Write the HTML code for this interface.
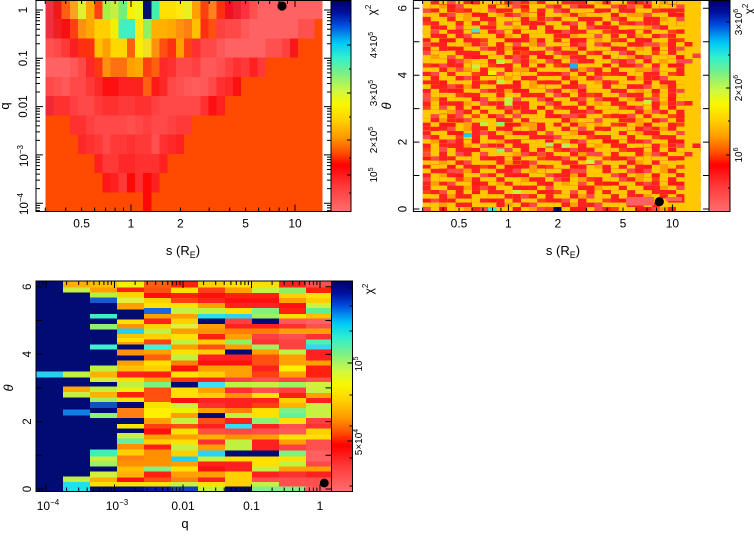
<!DOCTYPE html>
<html><head><meta charset="utf-8"><style>
html,body{margin:0;padding:0;background:#fff;}
svg{display:block}
text{font-family:"Liberation Sans",sans-serif;fill:#000}
</style></head><body>
<svg width="754" height="537" viewBox="0 0 754 537" xmlns="http://www.w3.org/2000/svg">
<defs>
<linearGradient id="cb" x1="0" y1="0" x2="0" y2="1">
<stop offset="0" stop-color="#00006a"/>
<stop offset="0.06" stop-color="#0010a0"/>
<stop offset="0.12" stop-color="#0050e0"/>
<stop offset="0.2" stop-color="#00c8f8"/>
<stop offset="0.27" stop-color="#30f0d0"/>
<stop offset="0.35" stop-color="#80f080"/>
<stop offset="0.43" stop-color="#d0f840"/>
<stop offset="0.49" stop-color="#f8f800"/>
<stop offset="0.57" stop-color="#ffd000"/>
<stop offset="0.65" stop-color="#ff9800"/>
<stop offset="0.72" stop-color="#ff5000"/>
<stop offset="0.78" stop-color="#ff0000"/>
<stop offset="0.88" stop-color="#ff3a3a"/>
<stop offset="1" stop-color="#ff6e6e"/>
</linearGradient>
<pattern id="p2" patternUnits="userSpaceOnUse" x="422.7" y="0" width="65.408" height="42.2" viewBox="0 0 8 10" preserveAspectRatio="none">
<rect width="8" height="10" fill="#ffc800"/>
<g shape-rendering="crispEdges">
<rect x="1" y="0" width="2" height="1" fill="#ff2020"/><rect x="3" y="0" width="1" height="1" fill="#ff4848"/><rect x="5" y="0" width="1" height="1" fill="#ffa000"/><rect x="6" y="0" width="1" height="1" fill="#ff2020"/>
<rect x="0" y="1" width="1" height="1" fill="#ff2020"/><rect x="2" y="1" width="1" height="1" fill="#ffa000"/><rect x="3" y="1" width="2" height="1" fill="#ff1818"/><rect x="7" y="1" width="1" height="1" fill="#ff4848"/>
<rect x="0" y="2" width="1" height="1" fill="#ff4848"/><rect x="1" y="2" width="1" height="1" fill="#ff2020"/><rect x="4" y="2" width="1" height="1" fill="#ff4010"/><rect x="5" y="2" width="2" height="1" fill="#ff2020"/>
<rect x="1" y="3" width="1" height="1" fill="#ffa000"/><rect x="2" y="3" width="1" height="1" fill="#ff2020"/><rect x="3" y="3" width="1" height="1" fill="#ff4848"/><rect x="6" y="3" width="2" height="1" fill="#ff1818"/>
<rect x="0" y="4" width="1" height="1" fill="#ff2020"/><rect x="3" y="4" width="2" height="1" fill="#ff2020"/><rect x="5" y="4" width="1" height="1" fill="#ffa000"/><rect x="7" y="4" width="1" height="1" fill="#ff4848"/>
<rect x="0" y="5" width="1" height="1" fill="#ff4010"/><rect x="1" y="5" width="1" height="1" fill="#ff2020"/><rect x="2" y="5" width="1" height="1" fill="#ff4848"/><rect x="4" y="5" width="1" height="1" fill="#ff2020"/><rect x="6" y="5" width="1" height="1" fill="#ff1818"/>
<rect x="2" y="6" width="1" height="1" fill="#ff2020"/><rect x="3" y="6" width="1" height="1" fill="#ffa000"/><rect x="4" y="6" width="1" height="1" fill="#ff4848"/><rect x="5" y="6" width="1" height="1" fill="#ff2020"/><rect x="7" y="6" width="1" height="1" fill="#ff2020"/>
<rect x="0" y="7" width="1" height="1" fill="#ff1818"/><rect x="1" y="7" width="1" height="1" fill="#ff4848"/><rect x="3" y="7" width="1" height="1" fill="#ff2020"/><rect x="6" y="7" width="1" height="1" fill="#ff4010"/><rect x="7" y="7" width="1" height="1" fill="#ff2020"/>
<rect x="1" y="8" width="1" height="1" fill="#ff2020"/><rect x="2" y="8" width="1" height="1" fill="#ffa000"/><rect x="4" y="8" width="1" height="1" fill="#ff2020"/><rect x="5" y="8" width="1" height="1" fill="#ff4848"/>
<rect x="0" y="9" width="1" height="1" fill="#ff2020"/><rect x="2" y="9" width="2" height="1" fill="#ff1818"/><rect x="5" y="9" width="1" height="1" fill="#ffa000"/><rect x="6" y="9" width="1" height="1" fill="#ff2020"/><rect x="7" y="9" width="1" height="1" fill="#ff4010"/>
</g>
</pattern>
<pattern id="p3" patternUnits="userSpaceOnUse" x="422.7" y="0" width="57.232" height="54.86" viewBox="0 0 7 13" preserveAspectRatio="none">
<g shape-rendering="crispEdges">
<rect x="2" y="0" width="1" height="1" fill="#ffc800"/><rect x="5" y="0" width="1" height="1" fill="#ff2020"/>
<rect x="0" y="1" width="1" height="1" fill="#ffc800"/><rect x="4" y="1" width="1" height="1" fill="#ff4848"/>
<rect x="3" y="2" width="1" height="1" fill="#ff2020"/><rect x="6" y="2" width="1" height="1" fill="#ffc800"/>
<rect x="1" y="3" width="1" height="1" fill="#ffc800"/><rect x="5" y="3" width="1" height="1" fill="#ffa000"/>
<rect x="0" y="4" width="1" height="1" fill="#ff2020"/><rect x="4" y="4" width="1" height="1" fill="#ffc800"/>
<rect x="2" y="5" width="1" height="1" fill="#ffc800"/><rect x="6" y="5" width="1" height="1" fill="#ff2020"/>
<rect x="1" y="6" width="1" height="1" fill="#ff2020"/><rect x="3" y="6" width="1" height="1" fill="#ffc800"/><rect x="5" y="6" width="1" height="1" fill="#ffc800"/>
<rect x="0" y="7" width="1" height="1" fill="#ffc800"/><rect x="4" y="7" width="1" height="1" fill="#ff2020"/>
<rect x="2" y="8" width="1" height="1" fill="#ff2020"/><rect x="6" y="8" width="1" height="1" fill="#ffc800"/>
<rect x="1" y="9" width="1" height="1" fill="#ffc800"/><rect x="5" y="9" width="1" height="1" fill="#ff2020"/>
<rect x="0" y="10" width="1" height="1" fill="#ff4848"/><rect x="3" y="10" width="1" height="1" fill="#ffc800"/>
<rect x="2" y="11" width="1" height="1" fill="#ff2020"/><rect x="6" y="11" width="1" height="1" fill="#ffc800"/>
<rect x="1" y="12" width="1" height="1" fill="#ffc800"/><rect x="4" y="12" width="1" height="1" fill="#ff2020"/>
</g>
</pattern>
</defs>

<rect width="754" height="537" fill="#fff"/>

<!-- ============ PANEL 1 ============ -->
<svg x="45.3" y="0" width="277.4" height="211.5" viewBox="0 0 34 11" preserveAspectRatio="none" shape-rendering="crispEdges">
<rect width="34" height="11" fill="#ff4a00"/>
<g transform="translate(0,0)">
<rect x="0" width="1" height="1" fill="#f03040"/><rect x="1" width="1" height="1" fill="#f01818"/><rect x="2" width="1" height="1" fill="#ff6010"/><rect x="3" width="1" height="1" fill="#ffa020"/><rect x="4" width="1" height="1" fill="#e0f030"/><rect x="5" width="1" height="1" fill="#ffa800"/><rect x="6" width="1" height="1" fill="#ff4010"/><rect x="7" width="1" height="1" fill="#a8f048"/><rect x="8" width="1" height="1" fill="#c8f040"/><rect x="9" width="1" height="1" fill="#70f080"/><rect x="10" width="1" height="1" fill="#f8f000"/><rect x="11" width="1" height="1" fill="#e8f820"/><rect x="12" width="1" height="1" fill="#001070"/><rect x="13" width="1" height="1" fill="#40f0b0"/><rect x="14" width="2" height="1" fill="#ffe000"/><rect x="16" width="1" height="1" fill="#ffe810"/><rect x="17" width="1" height="1" fill="#e8f020"/><rect x="18" width="1" height="1" fill="#ffa000"/><rect x="19" width="1" height="1" fill="#ff4010"/><rect x="20" width="1" height="1" fill="#ff8020"/><rect x="21" width="1" height="1" fill="#ff3010"/><rect x="22" width="1" height="1" fill="#f01020"/><rect x="23" width="1" height="1" fill="#f02030"/><rect x="24" width="1" height="1" fill="#ff3040"/><rect x="25" width="1" height="1" fill="#ff5050"/><rect x="26" width="8" height="1" fill="#ff6262"/>
</g>
<g transform="translate(0,1)">
<rect x="0" width="1" height="1" fill="#f03040"/><rect x="1" width="1" height="1" fill="#f02020"/><rect x="2" width="1" height="1" fill="#f81010"/><rect x="3" width="1" height="1" fill="#ff4010"/><rect x="4" width="1" height="1" fill="#ff9010"/><rect x="5" width="1" height="1" fill="#ffa800"/><rect x="6" width="2" height="1" fill="#ffd000"/><rect x="8" width="1" height="1" fill="#f0f000"/><rect x="9" width="2" height="1" fill="#40f0c0"/><rect x="11" width="1" height="1" fill="#ffe810"/><rect x="12" width="1" height="1" fill="#90f060"/><rect x="13" width="2" height="1" fill="#ffb000"/><rect x="15" width="1" height="1" fill="#ffa800"/><rect x="16" width="1" height="1" fill="#ff9010"/><rect x="17" width="1" height="1" fill="#ff8010"/><rect x="18" width="1" height="1" fill="#ffc000"/><rect x="19" width="1" height="1" fill="#ff3010"/><rect x="20" width="1" height="1" fill="#ff5010"/><rect x="21" width="1" height="1" fill="#ff4040"/><rect x="22" width="2" height="1" fill="#ff4848"/><rect x="24" width="1" height="1" fill="#ff5858"/><rect x="25" width="6" height="1" fill="#ff6262"/><rect x="31" width="2" height="1" fill="#ff5050"/>
</g>
<g transform="translate(0,2)">
<rect x="0" width="1" height="1" fill="#ff5050"/><rect x="1" width="1" height="1" fill="#ff4848"/><rect x="2" width="1" height="1" fill="#ff3838"/><rect x="3" width="1" height="1" fill="#f82020"/><rect x="4" width="2" height="1" fill="#ff3010"/><rect x="6" width="1" height="1" fill="#ffc000"/><rect x="7" width="1" height="1" fill="#ffa000"/><rect x="8" width="2" height="1" fill="#ffd800"/><rect x="10" width="1" height="1" fill="#ff6010"/><rect x="11" width="1" height="1" fill="#f8f000"/><rect x="12" width="1" height="1" fill="#f0e020"/><rect x="13" width="1" height="1" fill="#ff9010"/><rect x="14" width="1" height="1" fill="#ff5010"/><rect x="15" width="1" height="1" fill="#ff3010"/><rect x="16" width="1" height="1" fill="#ffa000"/><rect x="17" width="1" height="1" fill="#ff4010"/><rect x="18" width="1" height="1" fill="#ff3030"/><rect x="19" width="2" height="1" fill="#ff4848"/><rect x="21" width="1" height="1" fill="#ff5858"/><rect x="22" width="5" height="1" fill="#ff6262"/><rect x="27" width="2" height="1" fill="#ff5050"/><rect x="29" width="1" height="1" fill="#ff4040"/><rect x="30" width="1" height="1" fill="#f81818"/>
</g>
<g transform="translate(0,3)">
<rect x="0" width="3" height="1" fill="#ff6262"/><rect x="3" width="1" height="1" fill="#ff5858"/><rect x="4" width="1" height="1" fill="#ff4848"/><rect x="5" width="1" height="1" fill="#ff2828"/><rect x="6" width="1" height="1" fill="#ff3810"/><rect x="7" width="1" height="1" fill="#ff9010"/><rect x="8" width="2" height="1" fill="#ff7010"/><rect x="10" width="1" height="1" fill="#ffa000"/><rect x="11" width="1" height="1" fill="#ffa800"/><rect x="12" width="1" height="1" fill="#ff4010"/><rect x="13" width="1" height="1" fill="#ff6010"/><rect x="14" width="1" height="1" fill="#ff2828"/><rect x="15" width="1" height="1" fill="#ff3030"/><rect x="16" width="2" height="1" fill="#ff4848"/><rect x="18" width="1" height="1" fill="#ff4040"/><rect x="19" width="2" height="1" fill="#ff5858"/><rect x="21" width="1" height="1" fill="#ff5050"/><rect x="22" width="1" height="1" fill="#ff4040"/><rect x="23" width="1" height="1" fill="#ff3030"/><rect x="24" width="1" height="1" fill="#ff3838"/><rect x="25" width="1" height="1" fill="#ff2020"/><rect x="26" width="1" height="1" fill="#ff3838"/>
</g>
<g transform="translate(0,4)">
<rect x="0" width="1" height="1" fill="#ff4848"/><rect x="1" width="1" height="1" fill="#ff5050"/><rect x="2" width="1" height="1" fill="#ff5858"/><rect x="3" width="2" height="1" fill="#ff4848"/><rect x="5" width="1" height="1" fill="#ff3838"/><rect x="6" width="1" height="1" fill="#ff2828"/><rect x="7" width="2" height="1" fill="#ff1010"/><rect x="9" width="3" height="1" fill="#ff2020"/><rect x="12" width="1" height="1" fill="#ff6010"/><rect x="13" width="1" height="1" fill="#ff1818"/><rect x="14" width="1" height="1" fill="#ff2828"/><rect x="15" width="1" height="1" fill="#ff4848"/><rect x="16" width="1" height="1" fill="#ff5050"/><rect x="17" width="1" height="1" fill="#ff5858"/><rect x="18" width="1" height="1" fill="#ff5c5c"/><rect x="19" width="1" height="1" fill="#ff5858"/><rect x="20" width="1" height="1" fill="#ff4848"/><rect x="21" width="1" height="1" fill="#ff3030"/><rect x="22" width="1" height="1" fill="#ff2828"/><rect x="23" width="1" height="1" fill="#ff1010"/>
</g>
<g transform="translate(0,5)">
<rect x="0" width="1" height="1" fill="#f02838"/><rect x="1" width="2" height="1" fill="#ff3030"/><rect x="3" width="1" height="1" fill="#ff4040"/><rect x="4" width="2" height="1" fill="#ff4848"/><rect x="6" width="1" height="1" fill="#ff3838"/><rect x="7" width="2" height="1" fill="#ff3030"/><rect x="9" width="2" height="1" fill="#ff3838"/><rect x="11" width="2" height="1" fill="#ff3030"/><rect x="13" width="1" height="1" fill="#ff4040"/><rect x="14" width="5" height="1" fill="#ff4848"/><rect x="19" width="1" height="1" fill="#ff3030"/><rect x="20" width="1" height="1" fill="#ff1010"/><rect x="21" width="1" height="1" fill="#ff2020"/>
</g>
<g transform="translate(0,6)">
<rect x="3" width="2" height="1" fill="#ff3030"/><rect x="5" width="1" height="1" fill="#ff4040"/><rect x="6" width="4" height="1" fill="#ff4848"/><rect x="10" width="1" height="1" fill="#ff5050"/><rect x="11" width="1" height="1" fill="#ff4848"/><rect x="12" width="1" height="1" fill="#ff4040"/><rect x="13" width="2" height="1" fill="#ff4848"/><rect x="15" width="1" height="1" fill="#ff4040"/><rect x="16" width="2" height="1" fill="#ff3838"/>
</g>
<g transform="translate(0,7)">
<rect x="4" width="1" height="1" fill="#ff2828"/><rect x="5" width="1" height="1" fill="#ff3030"/><rect x="6" width="1" height="1" fill="#ff3838"/><rect x="7" width="1" height="1" fill="#ff4848"/><rect x="8" width="2" height="1" fill="#ff3838"/><rect x="10" width="1" height="1" fill="#ff3030"/><rect x="11" width="2" height="1" fill="#ff3838"/><rect x="13" width="1" height="1" fill="#ff5050"/><rect x="14" width="1" height="1" fill="#ff3030"/><rect x="15" width="1" height="1" fill="#ff2828"/><rect x="16" width="1" height="1" fill="#ff2020"/>
</g>
<g transform="translate(0,8)">
<rect x="6" width="1" height="1" fill="#ff2020"/><rect x="7" width="2" height="1" fill="#ff3838"/><rect x="9" width="2" height="1" fill="#ff2828"/><rect x="11" width="3" height="1" fill="#ff3030"/><rect x="14" width="1" height="1" fill="#ff2020"/>
</g>
<g transform="translate(0,9)">
<rect x="7" width="1" height="1" fill="#ff1818"/><rect x="8" width="1" height="1" fill="#ff2020"/><rect x="9" width="1" height="1" fill="#ff3838"/><rect x="10" width="1" height="1" fill="#ff0808"/><rect x="11" width="1" height="1" fill="#ff3030"/><rect x="12" width="1" height="1" fill="#ff0808"/><rect x="13" width="1" height="1" fill="#ff2020"/>
</g>
<g transform="translate(0,10)">
<rect x="12" width="1" height="1" fill="#ff0808"/>
</g>
</svg>
<circle cx="282" cy="6" r="4.6" fill="#000"/>

<!-- panel 1 frame and ticks -->
<rect x="36" y="0.5" width="295" height="211" fill="none" stroke="#000" stroke-width="1"/>
<g id="p1y" stroke="#000" stroke-width="1" fill="none">
<path d="M36 10h7M36 58.3h7M36 106.6h7M36 154.9h7M36 203.2h7"/>
<path d="M36 43.76h4M36 35.25h4M36 29.22h4M36 24.54h4M36 20.72h4M36 17.48h4M36 14.68h4M36 12.21h4M36 92.06h4M36 83.55h4M36 77.52h4M36 72.84h4M36 69.02h4M36 65.78h4M36 62.98h4M36 60.51h4M36 140.36h4M36 131.85h4M36 125.82h4M36 121.14h4M36 117.32h4M36 114.08h4M36 111.28h4M36 108.81h4M36 188.66h4M36 180.15h4M36 174.12h4M36 169.44h4M36 165.62h4M36 162.38h4M36 159.58h4M36 157.11h4M36 210.68h4M36 207.88h4M36 205.41h4"/>
</g>
<use href="#p1y" transform="matrix(-1 0 0 1 367 0)"/>
<g id="p1x" stroke="#000" stroke-width="1" fill="none">
<path d="M131 211.5v-7M295 211.5v-7M131 0v7M295 0v7"/>
<path d="M45.25 211.5v-4M65.74 211.5v-4M81.63 211.5v-4M94.62 211.5v-4M105.6 211.5v-4M115.1 211.5v-4M123.5 211.5v-4M180.4 211.5v-4M209.2 211.5v-4M229.7 211.5v-4M245.6 211.5v-4M258.6 211.5v-4M269.6 211.5v-4M279.1 211.5v-4M287.5 211.5v-4M45.25 0v4M65.74 0v4M81.63 0v4M94.62 0v4M105.6 0v4M115.1 0v4M123.5 0v4M180.4 0v4M209.2 0v4M229.7 0v4M245.6 0v4M258.6 0v4M269.6 0v4M279.1 0v4M287.5 0v4"/>
</g>
<!-- colorbar 1 -->
<rect x="331" y="0.5" width="20" height="211" fill="url(#cb)" stroke="#000" stroke-width="1"/>
<path d="M351 45h-4M351 93h-4M351 140h-4M351 175h-4M351 21h-2M351 69h-2M351 117h-2M351 158h-2M351 193h-2" stroke="#000" stroke-width="1"/>

<!-- panel 1 labels -->
<g font-size="12" text-anchor="middle">
<text x="81.6" y="227.5">0.5</text>
<text x="131" y="227.5">1</text>
<text x="180.4" y="227.5">2</text>
<text x="245.6" y="227.5">5</text>
<text x="295" y="227.5">10</text>
<text x="183" y="255" font-size="13">s (R<tspan dy="3" font-size="9">E</tspan><tspan dy="-3">)</tspan></text>
</g>
<g font-size="11.5" text-anchor="middle">
<text transform="translate(27,10) rotate(-90)">1</text>
<text transform="translate(27,58.3) rotate(-90)">0.1</text>
<text transform="translate(27,106.6) rotate(-90)">0.01</text>
<text transform="translate(28,156) rotate(-90)">10<tspan dy="-5" font-size="8">−3</tspan></text>
<text transform="translate(28,204) rotate(-90)">10<tspan dy="-5" font-size="8">−4</tspan></text>
<text transform="translate(9,106) rotate(-90)" font-size="13">q</text>
</g>
<g font-size="10" text-anchor="middle">
<text transform="translate(377,45) rotate(-90)">4×10<tspan dy="-4" font-size="7">5</tspan></text>
<text transform="translate(377,93) rotate(-90)">3×10<tspan dy="-4" font-size="7">5</tspan></text>
<text transform="translate(377,140) rotate(-90)">2×10<tspan dy="-4" font-size="7">5</tspan></text>
<text transform="translate(377,175) rotate(-90)">10<tspan dy="-4" font-size="7">5</tspan></text>
<text transform="translate(376,10) rotate(-90)" font-size="12">χ<tspan dy="-5" font-size="8">2</tspan></text>
</g>

<!-- ============ PANEL 2 ============ -->
<rect x="422.7" y="0" width="278" height="211.5" fill="url(#p2)"/>
<rect x="422.7" y="0" width="278" height="211.5" fill="url(#p3)"/>
<g shape-rendering="crispEdges">
<rect x="684.4" y="0" width="8.2" height="211.5" fill="#ffc800"/>
<rect x="692.5" y="0" width="8.2" height="211.5" fill="#ffc800"/>
<rect x="692.5" y="53.5" width="8.2" height="4.3" fill="#ff4040"/>
<rect x="692.5" y="143.5" width="8.2" height="4.3" fill="#ff2020"/>
<rect x="684.4" y="42" width="8.2" height="4.3" fill="#ff2020"/>
<rect x="684.4" y="59" width="8.2" height="4.3" fill="#ff4848"/>
<rect x="684.4" y="101" width="8.2" height="4.3" fill="#ff2020"/>
<rect x="684.4" y="152" width="8.2" height="4.3" fill="#ff3030"/>
<rect x="626" y="197" width="28" height="8.4" fill="#ff6060"/>
<rect x="666" y="197" width="16" height="4.2" fill="#ff6060"/>
<rect x="471.8" y="28.3" width="8.2" height="4.2" fill="#40e8d0"/>
<rect x="463.6" y="133" width="8.2" height="4.2" fill="#20c8f0"/>
<rect x="570" y="64" width="8.2" height="4.4" fill="#20b0f0"/>
<rect x="504.5" y="97" width="8.2" height="8.4" fill="#c0f040"/>
<rect x="496.3" y="122" width="8.2" height="4.2" fill="#90f070"/>
<rect x="480" y="122" width="8.2" height="4.2" fill="#c0f040"/>
<rect x="496.3" y="148.5" width="8.2" height="4.2" fill="#a0f060"/>
<rect x="471.8" y="64.5" width="8.2" height="4.2" fill="#c8f040"/>
<rect x="553.5" y="207" width="8.2" height="4.5" fill="#000c74"/>
<rect x="488.1" y="207" width="8.2" height="4.5" fill="#40e0d0"/>
<rect x="496.3" y="80" width="8.2" height="4.2" fill="#c0f040"/>
<rect x="545.3" y="142.5" width="8.2" height="4.2" fill="#b0f050"/>
<rect x="561.7" y="143.5" width="8.2" height="4.2" fill="#c0f050"/>
<rect x="586.2" y="160" width="8.2" height="4.2" fill="#d0f040"/>
<rect x="643.5" y="100" width="8.2" height="4.2" fill="#d0f040"/>
<rect x="512.6" y="190" width="8.2" height="4.2" fill="#c8f040"/>
<rect x="496.3" y="60" width="8.2" height="4.2" fill="#c0f040"/>
<rect x="488.1" y="71" width="8.2" height="4.2" fill="#f0f000"/>
</g>
<circle cx="659.3" cy="201.7" r="4.6" fill="#000"/>

<rect x="413.4" y="0.5" width="295.6" height="211" fill="none" stroke="#000" stroke-width="1"/>
<use href="#p1x" transform="translate(377.4,0)"/>
<path d="M413.4 209h6M413.4 175.55h6M413.4 142.1h6M413.4 108.65h6M413.4 75.2h6M413.4 41.75h6M413.4 8.3h6M709 209h-6M709 175.55h-6M709 142.1h-6M709 108.65h-6M709 75.2h-6M709 41.75h-6M709 8.3h-6" stroke="#000" stroke-width="1"/>
<rect x="709" y="0.5" width="21" height="211" fill="url(#cb)" stroke="#000" stroke-width="1"/>
<path d="M730 22h-4M730 88h-4M730 155h-4M730 55h-2M730 121h-2M730 188h-2" stroke="#000" stroke-width="1"/>

<g font-size="12" text-anchor="middle">
<text x="459" y="227.5">0.5</text>
<text x="508.4" y="227.5">1</text>
<text x="557.8" y="227.5">2</text>
<text x="623" y="227.5">5</text>
<text x="672.4" y="227.5">10</text>
<text x="563" y="255" font-size="13">s (R<tspan dy="3" font-size="9">E</tspan><tspan dy="-3">)</tspan></text>
</g>
<g font-size="11.5" text-anchor="middle">
<text transform="translate(406.5,209) rotate(-90)">0</text>
<text transform="translate(406.5,142.1) rotate(-90)">2</text>
<text transform="translate(406.5,75.2) rotate(-90)">4</text>
<text transform="translate(406.5,8.3) rotate(-90)">6</text>
<text transform="translate(391,106) rotate(-90)" font-size="13" font-style="italic">θ</text>
</g>
<g font-size="10" text-anchor="middle">
<text transform="translate(742,22) rotate(-90)">3×10<tspan dy="-4" font-size="7">6</tspan></text>
<text transform="translate(742,88) rotate(-90)">2×10<tspan dy="-4" font-size="7">6</tspan></text>
<text transform="translate(742,155) rotate(-90)">10<tspan dy="-4" font-size="7">6</tspan></text>
<text transform="translate(753,9) rotate(-90)" font-size="12">χ<tspan dy="-5" font-size="8">2</tspan></text>
</g>

<!-- ============ PANEL 3 ============ -->
<rect x="36" y="281" width="295.5" height="210.5" fill="#000c74"/>
<g transform="translate(0,278) scale(1,0.333333)" shape-rendering="crispEdges">
<rect x="36" y="280" width="27.2" height="18" fill="#28d0f0"/>
<g transform="translate(63,0)">
<rect y="9" width="27.2" height="19" fill="#ffb000"/>
<rect y="28" width="27.2" height="15" fill="#c8f040"/>
<rect y="280" width="27.2" height="18" fill="#c0f040"/>
<rect y="325" width="27.2" height="17" fill="#ffa800"/>
<rect y="342" width="27.2" height="16" fill="#c8f040"/>
<rect y="395" width="27.2" height="18" fill="#1080e8"/>
<rect y="595" width="27.2" height="17" fill="#c0f040"/>
<rect y="612" width="27.2" height="28" fill="#20e0f0"/>
</g>
<g transform="translate(90,0)">
<rect y="9" width="27.2" height="19" fill="#ffc000"/>
<rect y="28" width="27.2" height="15" fill="#ffa000"/>
<rect y="43" width="27.2" height="15" fill="#b8f040"/>
<rect y="58" width="27.2" height="17" fill="#1858d0"/>
<rect y="108" width="27.2" height="14" fill="#40f0c0"/>
<rect y="138" width="27.2" height="17" fill="#90f070"/>
<rect y="200" width="27.2" height="15" fill="#40f0d0"/>
<rect y="262" width="27.2" height="18" fill="#c0f040"/>
<rect y="280" width="27.2" height="18" fill="#ffb000"/>
<rect y="298" width="27.2" height="14" fill="#d0f040"/>
<rect y="325" width="27.2" height="17" fill="#c0f040"/>
<rect y="342" width="27.2" height="16" fill="#ffb000"/>
<rect y="358" width="27.2" height="14" fill="#a0f060"/>
<rect y="372" width="27.2" height="18" fill="#1050c0"/>
<rect y="405" width="27.2" height="15" fill="#90f070"/>
<rect y="515" width="27.2" height="20" fill="#40f0b0"/>
<rect y="535" width="27.2" height="15" fill="#c8f040"/>
<rect y="550" width="27.2" height="15" fill="#a0f060"/>
<rect y="580" width="27.2" height="18" fill="#d0f040"/>
<rect y="598" width="27.2" height="14" fill="#ffb000"/>
<rect y="612" width="27.2" height="13" fill="#ffe000"/>
</g>
<g transform="translate(117,0)">
<rect y="9" width="27.2" height="19" fill="#f0f000"/>
<rect y="28" width="27.2" height="14" fill="#ff2010"/>
<rect y="42" width="27.2" height="16" fill="#ffd000"/>
<rect y="58" width="27.2" height="17" fill="#e0f040"/>
<rect y="75" width="27.2" height="20" fill="#ffa000"/>
<rect y="125" width="27.2" height="13" fill="#ffe000"/>
<rect y="138" width="27.2" height="14" fill="#ff9000"/>
<rect y="152" width="27.2" height="16" fill="#20d0f0"/>
<rect y="168" width="27.2" height="12" fill="#ffc000"/>
<rect y="180" width="27.2" height="12" fill="#ffe000"/>
<rect y="192" width="27.2" height="8" fill="#ffa000"/>
<rect y="215" width="27.2" height="17" fill="#ff9010"/>
<rect y="248" width="27.2" height="14" fill="#ffa000"/>
<rect y="262" width="27.2" height="18" fill="#ffc000"/>
<rect y="280" width="27.2" height="18" fill="#ff2020"/>
<rect y="298" width="27.2" height="14" fill="#ffe000"/>
<rect y="312" width="27.2" height="16" fill="#c0f040"/>
<rect y="328" width="27.2" height="14" fill="#f0f000"/>
<rect y="342" width="27.2" height="16" fill="#ff2010"/>
<rect y="358" width="27.2" height="14" fill="#ffe000"/>
<rect y="390" width="27.2" height="30" fill="#ff8010"/>
<rect y="438" width="27.2" height="14" fill="#ffe800"/>
<rect y="465" width="27.2" height="17" fill="#c8f040"/>
<rect y="482" width="27.2" height="16" fill="#60f0a0"/>
<rect y="498" width="27.2" height="17" fill="#ff9000"/>
<rect y="515" width="27.2" height="17" fill="#ffd000"/>
<rect y="532" width="27.2" height="16" fill="#ff8010"/>
<rect y="548" width="27.2" height="17" fill="#ff9000"/>
<rect y="565" width="27.2" height="15" fill="#ffc000"/>
<rect y="580" width="27.2" height="18" fill="#ffb000"/>
<rect y="598" width="27.2" height="14" fill="#ff1010"/>
<rect y="612" width="27.2" height="13" fill="#ffe000"/>
</g>
<g transform="translate(144,0)">
<rect y="9" width="27.2" height="19" fill="#ff6010"/>
<rect y="28" width="27.2" height="17" fill="#ff5010"/>
<rect y="45" width="27.2" height="15" fill="#ff1010"/>
<rect y="60" width="27.2" height="15" fill="#ffd000"/>
<rect y="75" width="27.2" height="15" fill="#ffe000"/>
<rect y="90" width="27.2" height="18" fill="#1868d8"/>
<rect y="108" width="27.2" height="14" fill="#ffa000"/>
<rect y="122" width="27.2" height="16" fill="#ff2020"/>
<rect y="138" width="27.2" height="14" fill="#ffd000"/>
<rect y="152" width="27.2" height="16" fill="#c0f040"/>
<rect y="168" width="27.2" height="17" fill="#ffd000"/>
<rect y="185" width="27.2" height="15" fill="#ff4010"/>
<rect y="200" width="27.2" height="15" fill="#40f0e0"/>
<rect y="215" width="27.2" height="15" fill="#ffa000"/>
<rect y="230" width="27.2" height="18" fill="#ff6010"/>
<rect y="248" width="27.2" height="14" fill="#ffe000"/>
<rect y="262" width="27.2" height="18" fill="#ffd000"/>
<rect y="280" width="27.2" height="18" fill="#ff2010"/>
<rect y="298" width="27.2" height="14" fill="#ffa000"/>
<rect y="312" width="27.2" height="16" fill="#80f080"/>
<rect y="328" width="27.2" height="44" fill="#ff5010"/>
<rect y="372" width="27.2" height="18" fill="#ffe000"/>
<rect y="390" width="27.2" height="30" fill="#fff000"/>
<rect y="420" width="27.2" height="18" fill="#ffa000"/>
<rect y="438" width="27.2" height="14" fill="#ff4010"/>
<rect y="452" width="27.2" height="18" fill="#ff1010"/>
<rect y="470" width="27.2" height="15" fill="#ffa000"/>
<rect y="485" width="27.2" height="15" fill="#ffd000"/>
<rect y="500" width="27.2" height="15" fill="#ff2010"/>
<rect y="515" width="27.2" height="50" fill="#ff9000"/>
<rect y="565" width="27.2" height="15" fill="#80f080"/>
<rect y="580" width="27.2" height="18" fill="#ff2010"/>
<rect y="598" width="27.2" height="14" fill="#ff5010"/>
<rect y="612" width="27.2" height="13" fill="#ffe000"/>
<rect y="625" width="27.2" height="15" fill="#0818a0"/>
</g>
<g transform="translate(171,0)">
<rect y="9" width="27.2" height="19" fill="#ff2010"/>
<rect y="28" width="27.2" height="17" fill="#ffe000"/>
<rect y="45" width="27.2" height="15" fill="#ff2010"/>
<rect y="60" width="27.2" height="15" fill="#ff4010"/>
<rect y="75" width="27.2" height="15" fill="#ffe000"/>
<rect y="90" width="27.2" height="18" fill="#c8f040"/>
<rect y="108" width="27.2" height="14" fill="#ffa000"/>
<rect y="122" width="27.2" height="16" fill="#ffd000"/>
<rect y="138" width="27.2" height="14" fill="#e0f040"/>
<rect y="152" width="27.2" height="16" fill="#ffa000"/>
<rect y="168" width="27.2" height="17" fill="#ffe000"/>
<rect y="185" width="27.2" height="15" fill="#c0f040"/>
<rect y="200" width="27.2" height="15" fill="#ffa000"/>
<rect y="215" width="27.2" height="15" fill="#ffe000"/>
<rect y="230" width="27.2" height="18" fill="#c0f040"/>
<rect y="248" width="27.2" height="14" fill="#ff8000"/>
<rect y="262" width="27.2" height="18" fill="#ff1010"/>
<rect y="280" width="27.2" height="18" fill="#ffe000"/>
<rect y="298" width="27.2" height="14" fill="#ff3010"/>
<rect y="328" width="27.2" height="32" fill="#ffe000"/>
<rect y="360" width="27.2" height="15" fill="#ff1010"/>
<rect y="375" width="27.2" height="15" fill="#c8f040"/>
<rect y="390" width="27.2" height="15" fill="#f0f000"/>
<rect y="405" width="27.2" height="15" fill="#ffa000"/>
<rect y="420" width="27.2" height="18" fill="#c8f040"/>
<rect y="438" width="27.2" height="14" fill="#ff5010"/>
<rect y="452" width="27.2" height="18" fill="#ffe000"/>
<rect y="470" width="27.2" height="15" fill="#ffa000"/>
<rect y="485" width="27.2" height="15" fill="#ffe000"/>
<rect y="500" width="27.2" height="18" fill="#c8f040"/>
<rect y="518" width="27.2" height="17" fill="#ffd000"/>
<rect y="535" width="27.2" height="15" fill="#20d0f0"/>
<rect y="550" width="27.2" height="15" fill="#ffa000"/>
<rect y="565" width="27.2" height="15" fill="#ffe000"/>
<rect y="580" width="27.2" height="18" fill="#ffa000"/>
<rect y="598" width="27.2" height="14" fill="#ff8010"/>
<rect y="612" width="27.2" height="13" fill="#c8f040"/>
<rect y="625" width="27.2" height="15" fill="#1040c0"/>
</g>
<g transform="translate(198,0)">
<rect y="9" width="27.2" height="19" fill="#ffd000"/>
<rect y="28" width="27.2" height="17" fill="#ff4010"/>
<rect y="45" width="27.2" height="15" fill="#ff1010"/>
<rect y="60" width="27.2" height="15" fill="#ff2020"/>
<rect y="75" width="27.2" height="15" fill="#ffa000"/>
<rect y="90" width="27.2" height="18" fill="#c0f040"/>
<rect y="108" width="27.2" height="14" fill="#30d8f0"/>
<rect y="138" width="27.2" height="14" fill="#ffa000"/>
<rect y="152" width="27.2" height="16" fill="#ff9000"/>
<rect y="168" width="27.2" height="17" fill="#ff2010"/>
<rect y="185" width="27.2" height="15" fill="#ffd000"/>
<rect y="200" width="27.2" height="15" fill="#ff5010"/>
<rect y="215" width="27.2" height="15" fill="#ffd000"/>
<rect y="230" width="27.2" height="18" fill="#ff2020"/>
<rect y="248" width="27.2" height="14" fill="#ff1010"/>
<rect y="262" width="27.2" height="18" fill="#ffa000"/>
<rect y="280" width="27.2" height="18" fill="#ffd000"/>
<rect y="298" width="27.2" height="14" fill="#ff2020"/>
<rect y="312" width="27.2" height="16" fill="#40e0f0"/>
<rect y="328" width="27.2" height="17" fill="#ffa000"/>
<rect y="345" width="27.2" height="15" fill="#ffd000"/>
<rect y="360" width="27.2" height="15" fill="#ff2020"/>
<rect y="375" width="27.2" height="15" fill="#ff3030"/>
<rect y="390" width="27.2" height="15" fill="#ffa000"/>
<rect y="420" width="27.2" height="18" fill="#ff5010"/>
<rect y="438" width="27.2" height="14" fill="#ff2020"/>
<rect y="452" width="27.2" height="18" fill="#ff5040"/>
<rect y="470" width="27.2" height="15" fill="#ffb000"/>
<rect y="485" width="27.2" height="15" fill="#ff3030"/>
<rect y="500" width="27.2" height="18" fill="#ffa000"/>
<rect y="518" width="27.2" height="17" fill="#30d0f0"/>
<rect y="535" width="27.2" height="15" fill="#c8f040"/>
<rect y="550" width="27.2" height="15" fill="#ff2020"/>
<rect y="565" width="27.2" height="15" fill="#ff1010"/>
<rect y="580" width="27.2" height="18" fill="#ffa000"/>
<rect y="598" width="27.2" height="14" fill="#ff2020"/>
<rect y="612" width="27.2" height="13" fill="#ffe000"/>
<rect y="625" width="27.2" height="15" fill="#c0f040"/>
</g>
<g transform="translate(225,0)">
<rect y="9" width="27.2" height="19" fill="#ffe000"/>
<rect y="28" width="27.2" height="17" fill="#ffa000"/>
<rect y="45" width="27.2" height="15" fill="#ff2010"/>
<rect y="60" width="27.2" height="15" fill="#ff1010"/>
<rect y="75" width="27.2" height="15" fill="#ff2020"/>
<rect y="90" width="27.2" height="18" fill="#ffe000"/>
<rect y="108" width="27.2" height="14" fill="#30d0f0"/>
<rect y="122" width="27.2" height="16" fill="#ff4040"/>
<rect y="138" width="27.2" height="14" fill="#ff2020"/>
<rect y="152" width="27.2" height="16" fill="#ff8000"/>
<rect y="168" width="27.2" height="17" fill="#ffa000"/>
<rect y="185" width="27.2" height="15" fill="#90f060"/>
<rect y="200" width="27.2" height="15" fill="#ffa000"/>
<rect y="230" width="27.2" height="18" fill="#ff2020"/>
<rect y="248" width="27.2" height="14" fill="#ff1010"/>
<rect y="262" width="27.2" height="36" fill="#ffa000"/>
<rect y="298" width="27.2" height="14" fill="#ff4040"/>
<rect y="312" width="27.2" height="16" fill="#c0f040"/>
<rect y="328" width="27.2" height="17" fill="#ff3030"/>
<rect y="345" width="27.2" height="15" fill="#ff9000"/>
<rect y="360" width="27.2" height="30" fill="#ff2020"/>
<rect y="390" width="27.2" height="15" fill="#ff8000"/>
<rect y="405" width="27.2" height="15" fill="#c0f040"/>
<rect y="420" width="27.2" height="18" fill="#ff2020"/>
<rect y="438" width="27.2" height="14" fill="#30e0f0"/>
<rect y="452" width="27.2" height="18" fill="#ff4848"/>
<rect y="470" width="27.2" height="15" fill="#ff9000"/>
<rect y="485" width="27.2" height="33" fill="#c0f040"/>
<rect y="535" width="27.2" height="15" fill="#ffe000"/>
<rect y="550" width="27.2" height="30" fill="#ff2020"/>
<rect y="580" width="27.2" height="45" fill="#ffd000"/>
</g>
<g transform="translate(252,0)">
<rect y="9" width="27.2" height="19" fill="#f8e000"/>
<rect y="28" width="27.2" height="17" fill="#c8f040"/>
<rect y="45" width="27.2" height="15" fill="#ff2010"/>
<rect y="60" width="27.2" height="15" fill="#ff1010"/>
<rect y="75" width="27.2" height="15" fill="#ff2020"/>
<rect y="90" width="27.2" height="18" fill="#80f080"/>
<rect y="108" width="27.2" height="14" fill="#a0f060"/>
<rect y="138" width="27.2" height="14" fill="#ff2020"/>
<rect y="152" width="27.2" height="16" fill="#ff8000"/>
<rect y="168" width="27.2" height="17" fill="#ff4040"/>
<rect y="185" width="27.2" height="15" fill="#ff3030"/>
<rect y="200" width="27.2" height="15" fill="#a0f060"/>
<rect y="215" width="27.2" height="15" fill="#ffa000"/>
<rect y="230" width="27.2" height="32" fill="#ff5010"/>
<rect y="262" width="27.2" height="18" fill="#ff2020"/>
<rect y="280" width="27.2" height="18" fill="#ff4010"/>
<rect y="298" width="27.2" height="14" fill="#ff5050"/>
<rect y="312" width="27.2" height="16" fill="#c8f040"/>
<rect y="328" width="27.2" height="17" fill="#ff5050"/>
<rect y="345" width="27.2" height="15" fill="#ffe000"/>
<rect y="360" width="27.2" height="15" fill="#ff2020"/>
<rect y="375" width="27.2" height="15" fill="#ff4010"/>
<rect y="390" width="27.2" height="30" fill="#ffe000"/>
<rect y="420" width="27.2" height="18" fill="#90f070"/>
<rect y="438" width="27.2" height="14" fill="#ff2020"/>
<rect y="452" width="27.2" height="18" fill="#ff5050"/>
<rect y="470" width="27.2" height="15" fill="#ffa000"/>
<rect y="485" width="27.2" height="33" fill="#ff2020"/>
<rect y="535" width="27.2" height="30" fill="#ffe000"/>
<rect y="565" width="27.2" height="15" fill="#c8f040"/>
<rect y="580" width="27.2" height="18" fill="#ff2020"/>
<rect y="598" width="27.2" height="14" fill="#ff5050"/>
<rect y="612" width="27.2" height="13" fill="#c8f040"/>
<rect y="625" width="27.2" height="15" fill="#80f080"/>
</g>
<g transform="translate(279,0)">
<rect y="9" width="27.2" height="19" fill="#ff2020"/>
<rect y="28" width="27.2" height="17" fill="#90f060"/>
<rect y="45" width="27.2" height="15" fill="#ffd000"/>
<rect y="60" width="27.2" height="15" fill="#ffa000"/>
<rect y="75" width="27.2" height="15" fill="#ff1010"/>
<rect y="90" width="27.2" height="18" fill="#ff2010"/>
<rect y="108" width="27.2" height="14" fill="#ffe000"/>
<rect y="122" width="27.2" height="16" fill="#ff5858"/>
<rect y="138" width="27.2" height="14" fill="#ff3030"/>
<rect y="152" width="27.2" height="16" fill="#ffa000"/>
<rect y="168" width="27.2" height="17" fill="#ff5050"/>
<rect y="185" width="27.2" height="30" fill="#ff4040"/>
<rect y="215" width="27.2" height="15" fill="#c0f040"/>
<rect y="230" width="27.2" height="32" fill="#ffa000"/>
<rect y="262" width="27.2" height="18" fill="#fff000"/>
<rect y="280" width="27.2" height="18" fill="#ffa000"/>
<rect y="298" width="27.2" height="14" fill="#ff4040"/>
<rect y="312" width="27.2" height="16" fill="#a0f060"/>
<rect y="328" width="27.2" height="17" fill="#ff4040"/>
<rect y="345" width="27.2" height="15" fill="#ff2010"/>
<rect y="360" width="27.2" height="15" fill="#ffd000"/>
<rect y="375" width="27.2" height="15" fill="#ffb000"/>
<rect y="390" width="27.2" height="15" fill="#80f080"/>
<rect y="405" width="27.2" height="15" fill="#60f0a0"/>
<rect y="420" width="27.2" height="18" fill="#ffe000"/>
<rect y="438" width="27.2" height="14" fill="#ff5050"/>
<rect y="452" width="27.2" height="18" fill="#ff5858"/>
<rect y="470" width="27.2" height="15" fill="#ffe000"/>
<rect y="485" width="27.2" height="15" fill="#ffa000"/>
<rect y="500" width="27.2" height="18" fill="#ff4040"/>
<rect y="518" width="27.2" height="17" fill="#80f080"/>
<rect y="535" width="27.2" height="15" fill="#ffe000"/>
<rect y="550" width="27.2" height="15" fill="#c0f040"/>
<rect y="565" width="27.2" height="15" fill="#ffa000"/>
<rect y="580" width="27.2" height="18" fill="#ff3030"/>
<rect y="598" width="27.2" height="27" fill="#ff5050"/>
<rect y="625" width="27.2" height="15" fill="#80f080"/>
</g>
<g transform="translate(306,0)">
<rect y="9" width="25.5" height="19" fill="#ff5050"/>
<rect y="28" width="25.5" height="17" fill="#ff2010"/>
<rect y="45" width="25.5" height="15" fill="#ffe000"/>
<rect y="60" width="25.5" height="15" fill="#ffd000"/>
<rect y="75" width="25.5" height="15" fill="#d0f040"/>
<rect y="90" width="25.5" height="18" fill="#60f090"/>
<rect y="108" width="25.5" height="14" fill="#ffc000"/>
<rect y="122" width="25.5" height="16" fill="#ff6060"/>
<rect y="138" width="25.5" height="14" fill="#ff5050"/>
<rect y="152" width="25.5" height="16" fill="#ffa000"/>
<rect y="168" width="25.5" height="17" fill="#ff3030"/>
<rect y="185" width="25.5" height="15" fill="#50f0b0"/>
<rect y="200" width="25.5" height="15" fill="#30d8f0"/>
<rect y="215" width="25.5" height="33" fill="#ff2020"/>
<rect y="248" width="25.5" height="14" fill="#ffa000"/>
<rect y="262" width="25.5" height="36" fill="#ff2010"/>
<rect y="298" width="25.5" height="14" fill="#ff5050"/>
<rect y="312" width="25.5" height="16" fill="#d0f040"/>
<rect y="328" width="25.5" height="17" fill="#c8f040"/>
<rect y="345" width="25.5" height="15" fill="#ffa000"/>
<rect y="360" width="25.5" height="15" fill="#ff2020"/>
<rect y="375" width="25.5" height="45" fill="#c8f040"/>
<rect y="420" width="25.5" height="18" fill="#ff4040"/>
<rect y="438" width="25.5" height="14" fill="#ff3030"/>
<rect y="452" width="25.5" height="18" fill="#ffd000"/>
<rect y="470" width="25.5" height="15" fill="#ffe000"/>
<rect y="485" width="25.5" height="33" fill="#ff5050"/>
<rect y="518" width="25.5" height="32" fill="#ff6060"/>
<rect y="550" width="25.5" height="15" fill="#ff4848"/>
<rect y="565" width="25.5" height="15" fill="#ffa000"/>
<rect y="580" width="25.5" height="18" fill="#ff2020"/>
<rect y="598" width="25.5" height="27" fill="#ff5050"/>
<rect y="625" width="25.5" height="15" fill="#ff6060"/>
</g>
</g>
<circle cx="324.3" cy="483" r="4.4" fill="#000"/>

<rect x="36" y="281" width="295.5" height="210.5" fill="none" stroke="#000" stroke-width="1"/>
<g stroke="#000" stroke-width="1" fill="none">
<path d="M46 491.5v-7M114.5 491.5v-7M183 491.5v-7M251.5 491.5v-7M320 491.5v-7M46 281v7M114.5 281v7M183 281v7M251.5 281v7M320 281v7"/>
<path d="M39.4 491.5v-4M42.9 491.5v-4M66.6 491.5v-4M78.7 491.5v-4M87.2 491.5v-4M93.9 491.5v-4M99.3 491.5v-4M103.9 491.5v-4M107.9 491.5v-4M111.4 491.5v-4M135.1 491.5v-4M147.2 491.5v-4M155.7 491.5v-4M162.4 491.5v-4M167.8 491.5v-4M172.4 491.5v-4M176.4 491.5v-4M179.9 491.5v-4M203.6 491.5v-4M215.7 491.5v-4M224.2 491.5v-4M230.9 491.5v-4M236.3 491.5v-4M240.9 491.5v-4M244.9 491.5v-4M248.4 491.5v-4M272.1 491.5v-4M284.2 491.5v-4M292.7 491.5v-4M299.4 491.5v-4M304.8 491.5v-4M309.4 491.5v-4M313.4 491.5v-4M316.9 491.5v-4"/>
<path d="M39.4 281v4M42.9 281v4M66.6 281v4M78.7 281v4M87.2 281v4M93.9 281v4M99.3 281v4M103.9 281v4M107.9 281v4M111.4 281v4M135.1 281v4M147.2 281v4M155.7 281v4M162.4 281v4M167.8 281v4M172.4 281v4M176.4 281v4M179.9 281v4M203.6 281v4M215.7 281v4M224.2 281v4M230.9 281v4M236.3 281v4M240.9 281v4M244.9 281v4M248.4 281v4M272.1 281v4M284.2 281v4M292.7 281v4M299.4 281v4M304.8 281v4M309.4 281v4M313.4 281v4M316.9 281v4"/>
<path d="M36 489h6M36 455.3h6M36 421.6h6M36 387.9h6M36 354.2h6M36 320.5h6M36 286.8h6M331.5 489h-6M331.5 455.3h-6M331.5 421.6h-6M331.5 387.9h-6M331.5 354.2h-6M331.5 320.5h-6M331.5 286.8h-6"/>
</g>
<rect x="331.5" y="281" width="21" height="210.5" fill="url(#cb)" stroke="#000" stroke-width="1"/>
<path d="M352.5 363h-5M352.5 441h-5M352.5 288h-3M352.5 306h-3M352.5 331h-3M352.5 395h-3M352.5 426h-3M352.5 458h-3M352.5 486h-3" stroke="#000" stroke-width="1"/>

<g font-size="12" text-anchor="middle">
<text x="48" y="510">10<tspan dy="-5" font-size="8">−4</tspan></text>
<text x="117" y="510">10<tspan dy="-5" font-size="8">−3</tspan></text>
<text x="183" y="510">0.01</text>
<text x="251.5" y="510">0.1</text>
<text x="320" y="510">1</text>
<text x="185" y="528" font-size="13">q</text>
</g>
<g font-size="11.5" text-anchor="middle">
<text transform="translate(31,489) rotate(-90)">0</text>
<text transform="translate(31,421.6) rotate(-90)">2</text>
<text transform="translate(31,354.2) rotate(-90)">4</text>
<text transform="translate(31,286.8) rotate(-90)">6</text>
<text transform="translate(13,388) rotate(-90)" font-size="13" font-style="italic">θ</text>
</g>
<g font-size="10" text-anchor="middle">
<text transform="translate(362,364) rotate(-90)">10<tspan dy="-4" font-size="7">5</tspan></text>
<text transform="translate(362,442) rotate(-90)">5×10<tspan dy="-4" font-size="7">4</tspan></text>
<text transform="translate(373,289) rotate(-90)" font-size="12">χ<tspan dy="-5" font-size="8">2</tspan></text>
</g>
</svg>
</body></html>
